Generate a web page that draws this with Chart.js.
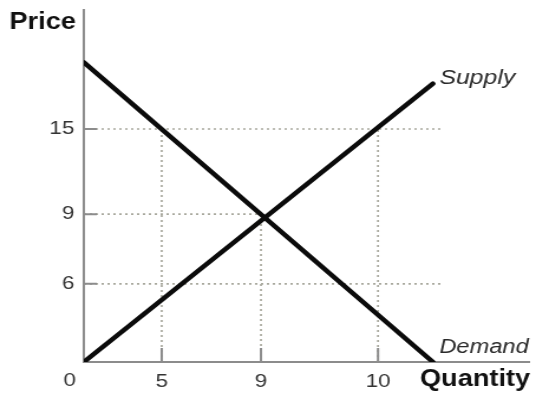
<!DOCTYPE html>
<html>
<head>
<meta charset="utf-8">
<script src="https://cdn.jsdelivr.net/npm/chart.js@4/dist/chart.umd.min.js"></script>
<style>
  html, body { margin:0; padding:0; background:#fff; overflow:hidden; }
  /* the drawing is a little wide-set, so the canvas is stretched sideways */
  #sd { display:block; transform:scaleX(1.1806); transform-origin:0 0; }
</style>
</head>
<body>
<canvas id="sd" width="454" height="395"></canvas>
<script>
// ---- data ----
const quantityTicks  = [5, 9, 10];
const priceTicks     = [6, 9, 15];
const supplyQuantity = [0, 11];
const supplyPrice    = [0, 18.2];
const demandQuantity = [0, 11];
const demandPrice    = [19.7, 0];
const equilibrium    = [9, 9];     // quantity, price
const guideEnd       = 11.2;       // price guides at 6 and 15 run out to here
const guideTop       = 15;         // quantity guides at 5 and 10 rise to here

// the axes are not to scale: piecewise mapping between marked values
const axisKnots = {
  x: { values:[0, 5, 9, 10, 12.75], at:[0, 0.175, 0.398, 0.661, 1] },
  y: { values:[0, 6, 9, 15, 23.4],  at:[0, 0.222, 0.420, 0.662, 1] }
};

class PiecewiseScale extends Chart.LinearScale {
  static id = 'piecewise';
  _toDec(v){
    const k = axisKnots[this.axis];
    for(let i = 1; i < k.values.length; i++){
      if(v <= k.values[i] || i === k.values.length - 1){
        const t = (v - k.values[i-1]) / (k.values[i] - k.values[i-1]);
        return k.at[i-1] + t * (k.at[i] - k.at[i-1]);
      }
    }
    return 0;
  }
  _fromDec(d){
    const k = axisKnots[this.axis];
    for(let i = 1; i < k.at.length; i++){
      if(d <= k.at[i] || i === k.at.length - 1){
        const t = (d - k.at[i-1]) / (k.at[i] - k.at[i-1]);
        return k.values[i-1] + t * (k.values[i] - k.values[i-1]);
      }
    }
    return 0;
  }
  getPixelForValue(v){ return this.getPixelForDecimal(this._toDec(v)); }
  getValueForPixel(p){ return this._fromDec(this.getDecimalForPixel(p)); }
}
Chart.register(PiecewiseScale);

const pts = (qs, ps) => qs.map((q, i) => ({ x:q, y:ps[i] }));
const [eqQ, eqP] = equilibrium;

const guide = data => ({
  data, borderColor:'#a9a99e', borderWidth:1.7, borderDash:[2,3],
  pointRadius:0, fill:false
});
const curve = (label, data) => ({
  label, data, borderColor:'#0b0b0b', borderWidth:4.4, borderCapStyle:'round',
  pointRadius:0, fill:false
});

// no label overhang padding: the plot box is fixed
const noPad = s => { s.paddingTop = s.paddingBottom = s.paddingLeft = s.paddingRight = 0; };

// axis ticks, origin label and the text annotations
const decor = {
  id:'decor',
  afterDraw(chart){
    const { ctx, chartArea:a, scales:{ x, y } } = chart;
    ctx.save();
    ctx.strokeStyle = '#8c8c8c'; ctx.lineWidth = 2;
    ctx.beginPath();
    x.ticks.forEach(t => { const px = x.getPixelForValue(t.value); ctx.moveTo(px, a.bottom); ctx.lineTo(px, a.bottom - 14); });
    y.ticks.forEach(t => { const py = y.getPixelForValue(t.value); ctx.moveTo(a.left, py); ctx.lineTo(a.left + 11, py); });
    ctx.stroke();

    ctx.fillStyle = '#333';
    ctx.font = '19px "Liberation Sans", Arial, sans-serif';
    ctx.textAlign = 'center'; ctx.textBaseline = 'middle';
    ctx.fillText('0', x.getPixelForValue(0) - 12, a.bottom + 19);

    ctx.fillStyle = '#111';
    ctx.textBaseline = 'alphabetic';
    ctx.font = 'bold 23px "Liberation Sans", Arial, sans-serif';
    ctx.textAlign = 'left';  ctx.fillText('Price', 8, 29);
    ctx.textAlign = 'right'; ctx.fillText('Quantity', a.right + 1, 386);

    ctx.fillStyle = '#2a2a2a';
    ctx.textAlign = 'left';
    const sEnd = chart.getDatasetMeta(0).data[supplyQuantity.length - 1];
    const dEnd = chart.getDatasetMeta(1).data[demandQuantity.length - 1];
    ctx.font = 'italic 21px "Liberation Sans", Arial, sans-serif';
    ctx.fillText('Supply', sEnd.x + 5.5, sEnd.y);
    ctx.font = 'italic 20px "Liberation Sans", Arial, sans-serif';
    ctx.fillText('Demand', dEnd.x + 5.5, dEnd.y - 9);
    ctx.restore();
  }
};

const tickFont = { family:'"Liberation Sans", Arial, sans-serif', size:19 };

new Chart(document.getElementById('sd'), {
  type:'line',
  data:{
    datasets:[
      curve('Supply', pts(supplyQuantity, supplyPrice)),
      curve('Demand', pts(demandQuantity, demandPrice)),
      guide([{ x:0, y:eqP }, { x:eqQ, y:eqP }, { x:eqQ, y:0 }]),
      guide([{ x:0, y:priceTicks[2] }, { x:guideEnd, y:priceTicks[2] }]),
      guide([{ x:0, y:priceTicks[0] }, { x:guideEnd, y:priceTicks[0] }]),
      guide([{ x:quantityTicks[0], y:0 }, { x:quantityTicks[0], y:guideTop }]),
      guide([{ x:quantityTicks[2], y:0 }, { x:quantityTicks[2], y:guideTop }])
    ]
  },
  options:{
    responsive:false, animation:false,
    layout:{ padding:{ top:10, right:6, left:0, bottom:0 } },
    plugins:{ legend:{ display:false }, tooltip:{ enabled:false } },
    elements:{ line:{ tension:0 } },
    scales:{
      x:{
        type:'piecewise', min:0, max:12.75,
        grid:{ display:false, drawTicks:false },
        border:{ display:true, color:'#8c8c8c', width:2 },
        ticks:{ color:'#333', font:tickFont, padding:8, maxRotation:0 },
        afterBuildTicks: s => { s.ticks = quantityTicks.map(v => ({ value:v })); },
        afterFit: s => { s.height = 33; noPad(s); }
      },
      y:{
        type:'piecewise', min:0, max:23.4,
        grid:{ display:false, drawTicks:false },
        border:{ display:true, color:'#8c8c8c', width:2 },
        ticks:{ color:'#333', font:tickFont, padding:8 },
        afterBuildTicks: s => { s.ticks = priceTicks.map(v => ({ value:v })); },
        afterFit: s => { s.width = 71; noPad(s); }
      }
    }
  },
  plugins:[decor]
});
</script>
</body>
</html>
